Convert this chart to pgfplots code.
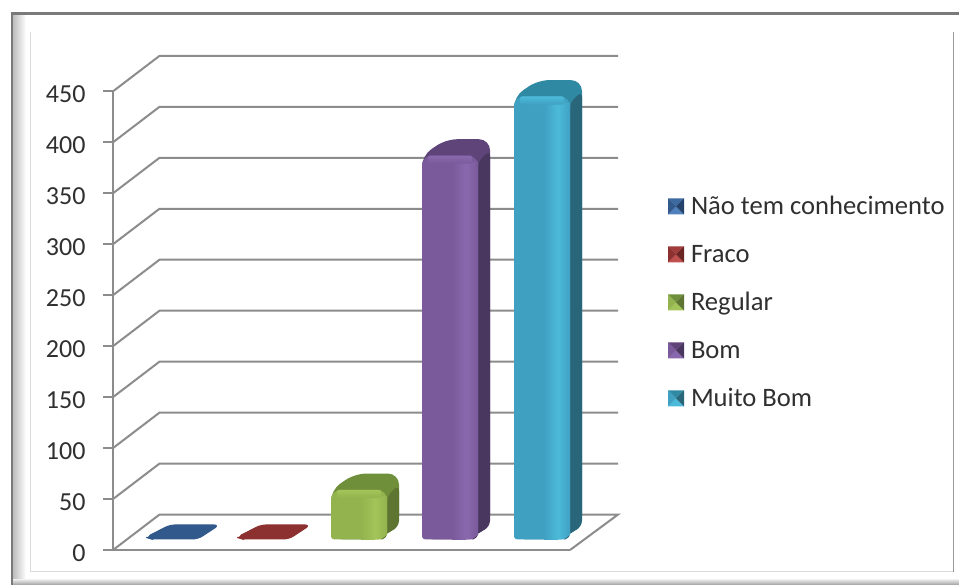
\documentclass[border=0pt]{standalone}
\usepackage{pgfplots}
\usepackage{fontspec}
\setmainfont{Carlito}
\pgfplotsset{compat=1.18}
\definecolor{axg}{HTML}{8C8C8C}
\definecolor{txt}{HTML}{303030}
\definecolor{blue3d}{HTML}{31598C}
\definecolor{blue3dT}{HTML}{3C69A0}
\definecolor{blue3dL}{HTML}{4F81BD}
\definecolor{blue3dS}{HTML}{25436A}
\definecolor{red3d}{HTML}{8C3130}
\definecolor{red3dT}{HTML}{A03C3A}
\definecolor{red3dL}{HTML}{C0504D}
\definecolor{red3dS}{HTML}{6A2524}
\definecolor{green3dT}{HTML}{6F8F3A}
\definecolor{green3dF}{HTML}{92B34E}
\definecolor{green3dS}{HTML}{5D7530}
\definecolor{green3dL}{HTML}{A3C458}
\definecolor{purple3dT}{HTML}{5E4478}
\definecolor{purple3dF}{HTML}{7A5A9A}
\definecolor{purple3dS}{HTML}{4A3760}
\definecolor{purple3dL}{HTML}{8A68AE}
\definecolor{teal3dT}{HTML}{2F89A3}
\definecolor{teal3dF}{HTML}{40A0C2}
\definecolor{teal3dS}{HTML}{2A6679}
\definecolor{teal3dL}{HTML}{4CBAD9}
\newcommand\ThreeDBar[6]{% left x, value, top, front, side, light
  \pgfmathsetmacro\xa{#1+24}\pgfmathsetmacro\xb{#1+56}\pgfmathsetmacro\xc{#1+68}
  \pgfmathsetmacro\xd{#1+46}\pgfmathsetmacro\xe{#1+30}\pgfmathsetmacro\xf{#1+44}
  \pgfmathsetmacro\xg{#1+50}\pgfmathsetmacro\xh{#1+6}
  \pgfmathsetmacro\T{#2+23}\pgfmathsetmacro\S{#2+7}\pgfmathsetmacro\Sa{#2+1}
  \pgfmathsetmacro\Sb{#2-1}\pgfmathsetmacro\Tb{#2+12}
  \addplot[forget plot,draw=none,fill=#3,rounded corners=11pt] coordinates {(#1,10.5)(#1,\S)(\xa,\T)(\xc,\T)(\xc,23)(\xd,10.5)} -- cycle;
  \addplot[forget plot,draw=none,fill=#5,rounded corners=6pt] coordinates {(\xd,10.5)(\xc,23)(\xc,\Tb)(\xb,\Sa)(\xb,10.5)} -- cycle;
  \addplot[forget plot,draw=none,fill=#4,rounded corners=3pt] coordinates {(#1,10.5)(#1,\Sa)(\xh,\S)(\xg,\S)(\xb,\Sa)(\xb,15)(\xg,10.5)} -- cycle;
  \addplot[forget plot,draw=none,left color=#4,right color=#6] coordinates {(\xe,10.5)(\xe,\Sa)(\xf,\Sa)(\xf,10.5)} -- cycle;
  \addplot[forget plot,draw=none,left color=#6,right color=#4] coordinates {(\xf,10.5)(\xf,\Sa)(\xb,\Sa)(\xb,15)(\xg,10.5)} -- cycle;
  \addplot[forget plot,draw=none,bottom color=#4,top color=#6,rounded corners=2pt] coordinates {(\xh,\Sb)(\xh,\S)(\xg,\S)(\xg,\Sb)} -- cycle;
}
\newcommand\ThreeDFlat[3]{% left x, value, colour
  \pgfmathsetmacro\xa{#1+22}\pgfmathsetmacro\xc{#1+71}\pgfmathsetmacro\xd{#1+50}
  \pgfmathsetmacro\xh{#1+3}\pgfmathsetmacro\xl{#1-2}\pgfmathsetmacro\T{#2+22.5}
  \addplot[forget plot,draw=#3,line width=1.2pt,fill=#3,rounded corners=5pt] coordinates {(\xl,12.5)(\xa,\T)(\xc,\T)(\xd,11)(\xh,11)} -- cycle;
}
\newcommand\LegSq[4]{%
  \path[draw=none,fill=none] (0pt,0pt) -- (23pt,0pt);
  \fill[#1,draw=none] (0pt,-4.5pt) -- (8pt,3.5pt) -- (16pt,-4.5pt) -- cycle;
  \fill[#2,draw=none] (0pt,11.5pt) -- (8pt,3.5pt) -- (16pt,11.5pt) -- cycle;
  \fill[#3,draw=none] (0pt,-4.5pt) -- (8pt,3.5pt) -- (0pt,11.5pt) -- cycle;
  \fill[#4,draw=none] (16pt,-4.5pt) -- (8pt,3.5pt) -- (16pt,11.5pt) -- cycle;
}
\begin{document}
\begin{tikzpicture}[x=1pt,y=1pt]
\path[use as bounding box,fill=white] (0,0) rectangle (959,585);
% frame of the chart
\shade[top color=white,bottom color=black!38] (0,0) rectangle (959,7);
\shade[left color=black!26,right color=white] (13,6) rectangle (26,571);
\fill[white] (0,0) rectangle (11,585);
\fill[white] (0,571.5) rectangle (959,585);
\draw[color=black!52,line width=2.6pt] (12,0) -- (12,571.5) -- (959,571.5);
\draw[color=black!14,line width=1pt] (30,553) -- (30,13) -- (953.5,13);
\draw[color=black!40,line width=1.6pt] (953.5,13) -- (953.5,553);
\begin{axis}[
  at={(113,34.3)},anchor=south west,
  scale only axis,width=457pt,height=458.7pt,
  xmin=113,xmax=570,ymin=0,ymax=450,
  clip=false,
  axis x line=bottom,axis y line=left,
  axis line style={-,color=axg,line width=2pt},
  xtick=\empty,
  ytick={0,50,100,150,200,250,300,350,400,450},
  major tick length=10pt,
  tick align=outside,
  tick style={color=axg,line width=1.8pt},
  /pgf/number format/assume math mode=true,
  /pgf/number format/1000 sep={},
  tick label style={font=\fontsize{26}{28}\selectfont,text=txt},
  yticklabel style={xshift=-14pt,yshift=-3pt},
  legend cell align=left,
  legend style={
    at={(axis cs:668,345.5)},anchor=north west,
    draw=none,fill=none,
    font=\fontsize{26.6}{28}\selectfont,text=txt,
    row sep=24pt,
    inner sep=0pt,outer sep=0pt,
    nodes={text height=17pt,text depth=7pt,inner sep=0pt,outer sep=0pt},
  },
]
% side wall and back wall grid lines
\addplot[forget plot,axg,line width=2pt] coordinates {(113,50)(159.5,84.8)(618,84.8)};
\addplot[forget plot,axg,line width=2pt] coordinates {(113,100)(159.5,134.8)(618,134.8)};
\addplot[forget plot,axg,line width=2pt] coordinates {(113,150)(159.5,184.8)(618,184.8)};
\addplot[forget plot,axg,line width=2pt] coordinates {(113,200)(159.5,234.8)(618,234.8)};
\addplot[forget plot,axg,line width=2pt] coordinates {(113,250)(159.5,284.8)(618,284.8)};
\addplot[forget plot,axg,line width=2pt] coordinates {(113,300)(159.5,334.8)(618,334.8)};
\addplot[forget plot,axg,line width=2pt] coordinates {(113,350)(159.5,384.8)(618,384.8)};
\addplot[forget plot,axg,line width=2pt] coordinates {(113,400)(159.5,434.8)(618,434.8)};
\addplot[forget plot,axg,line width=2pt] coordinates {(113,450)(159.5,484.8)(618,484.8)};
% floor
\addplot[forget plot,axg,line width=2pt] coordinates {(113,0)(159.5,34.8)(618,34.8)(570,0)};
% bars
\ThreeDFlat{148}{2}{blue3d}
\ThreeDFlat{239}{2}{red3d}
\ThreeDBar{331}{52}{green3dT}{green3dF}{green3dS}{green3dL}
\ThreeDBar{422}{380}{purple3dT}{purple3dF}{purple3dS}{purple3dL}
\ThreeDBar{514}{438}{teal3dT}{teal3dF}{teal3dS}{teal3dL}
% legend
\addlegendimage{legend image code/.code={\LegSq{blue3dL}{blue3dT}{blue3d}{blue3dS}}}
\addlegendentry{Não tem conhecimento}
\addlegendimage{legend image code/.code={\LegSq{red3dL}{red3dT}{red3d}{red3dS}}}
\addlegendentry{Fraco}
\addlegendimage{legend image code/.code={\LegSq{green3dL}{green3dT}{green3dF}{green3dS}}}
\addlegendentry{Regular}
\addlegendimage{legend image code/.code={\LegSq{purple3dL}{purple3dT}{purple3dF}{purple3dS}}}
\addlegendentry{Bom}
\addlegendimage{legend image code/.code={\LegSq{teal3dL}{teal3dT}{teal3dF}{teal3dS}}}
\addlegendentry{Muito Bom}
\end{axis}
\end{tikzpicture}
\end{document}
